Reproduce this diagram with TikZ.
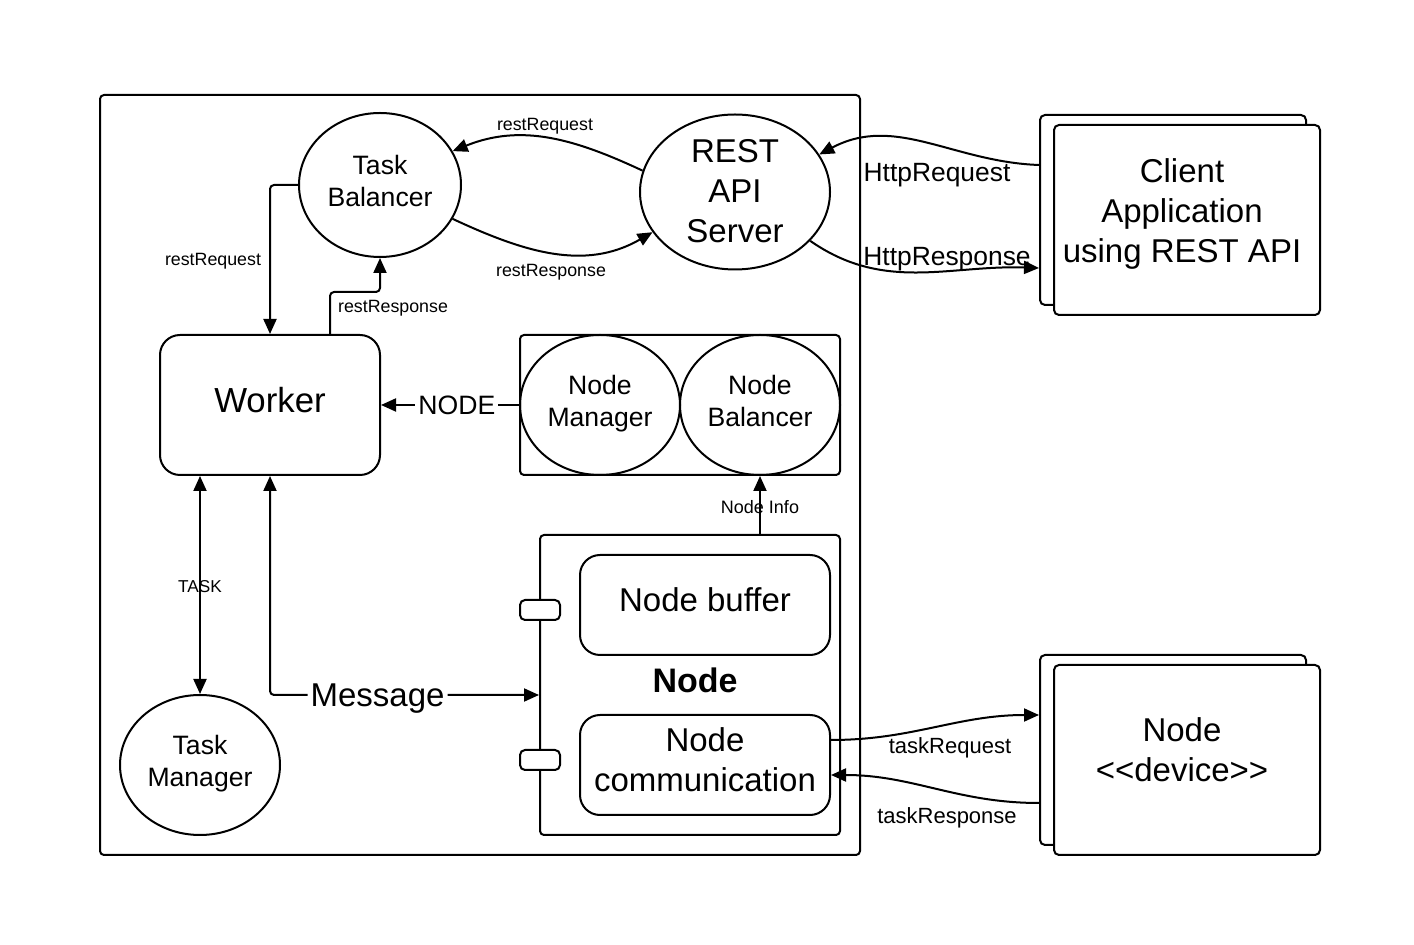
\documentclass[tikz,border=0pt]{standalone}
\usepackage{fontspec}
\setmainfont{Liberation Sans}
\usetikzlibrary{shapes.geometric,arrows.meta,calc}
\newcommand\myfs[2]{\fontsize{#1}{#2}\selectfont}
\begin{document}
\begin{tikzpicture}[x=0.5pt,y=-0.5pt,line width=1pt,
  tip/.tip={Triangle[length=7.5pt,width=6.5pt]},
  arr/.style={-tip},
  arrb/.style={tip-tip},
  ell/.style={ellipse,draw,inner sep=0pt,align=center},
  rbox/.style={rectangle,draw,rounded corners=#1,inner sep=0pt,align=center},
  lbl/.style={inner sep=0pt,align=center},
  big/.style={font=\myfs{16.5}{20}},
  mid/.style={font=\myfs{13.3}{16}},
  small/.style={font=\myfs{8.9}{11}},
]
\useasboundingbox (0,0) rectangle (1414,945);
\fill[white] (0,0) rectangle (1414,945);

% outer frame
\node[rbox=2pt,minimum width=380pt,minimum height=380pt] (frame) at (480,475) {};

% ellipses
\node[ell,minimum width=81pt,minimum height=72pt] (tb) at (380,185) {};
\node[lbl,mid] (tbtxt) at (380,181) {Task\\Balancer};
\node[ell,minimum width=95pt,minimum height=77.5pt] (rest) at (735,192) {};
\node[lbl,big] (resttxt) at (735,191) {REST\\API\\Server};

% worker
\node[rbox=10pt,minimum width=110pt,minimum height=70pt] (worker) at (270,405) {};
\node[lbl,font=\myfs{17.4}{20}] (workertxt) at (270,400) {Worker};

% node manager / balancer
\node[rbox=2pt,minimum width=160pt,minimum height=70pt] (nmbox) at (680,405) {};
\node[ell,minimum width=80pt,minimum height=70pt] (nm) at (600,405) {};
\node[lbl,mid] (nmtxt) at (600,404) {Node\\Manager};
\node[ell,minimum width=80pt,minimum height=70pt] (nb) at (760,405) {};
\node[lbl,mid] (nbtxt) at (760,401) {Node\\Balancer};

% node container
\node[rbox=2pt,minimum width=150pt,minimum height=150pt] (nodec) at (690,685) {};
\node[rbox=10pt,minimum width=125pt,minimum height=50pt] (nbuf) at (705,605) {};
\node[lbl,big] (nbuftxt) at (705,600) {Node buffer};
\node[rbox=10pt,minimum width=125pt,minimum height=50pt] (ncomm) at (705,765) {};
\node[lbl,big] (ncommtxt) at (705,760) {Node\\communication};
\node[lbl,font=\myfs{17}{20}\bfseries] (nodelbl) at (695,680) {Node};
\node[rbox=2.5pt,fill=white,minimum width=20pt,minimum height=10pt] (port1) at (540,610) {};
\node[rbox=2.5pt,fill=white,minimum width=20pt,minimum height=10pt] (port2) at (540,760) {};

% task manager
\node[ell,minimum width=80pt,minimum height=70pt] (tm) at (200,765) {};
\node[lbl,mid] (tmtxt) at (200,764) {Task\\Manager};

% client application
\node[rbox=2.5pt,minimum width=133pt,minimum height=95pt] (cliback) at (1173,210) {};
\node[rbox=2.5pt,fill=white,minimum width=133pt,minimum height=95pt] (clifront) at (1187,220) {};
\node[lbl,big] (clitxt) at (1182,214) {Client\\Application\\using REST API};

% device
\node[rbox=2.5pt,minimum width=133pt,minimum height=95pt] (devback) at (1173,750) {};
\node[rbox=2.5pt,fill=white,minimum width=133pt,minimum height=95pt] (devfront) at (1187,760) {};
\node[lbl,big] (devtxt) at (1182,750) {Node\\<\kern0pt<device>\kern0pt>};

% connectors
\draw[arr] (rest.167) to[out=155,in=22] (tb.25);
\node[lbl,small] (l1) at (545,126) {restRequest};
\draw[arr] (tb.-25) to[out=-25,in=-150] (rest.-154);
\node[lbl,small] (l2) at (551,272) {restResponse};

\draw[arr,rounded corners=2pt] (tb.west) -| (worker.north);
\node[lbl,small] (l3) at (213,261) {restRequest};
\draw[arr,rounded corners=2pt] ([xshift=30pt]worker.north) -- ++(0,-42) -| (tb.south);
\node[lbl,small] (l4) at (393,308) {restResponse};

\draw[arr] (nm.west) -- (worker.east) node[pos=0.45,fill=white,inner sep=1.5pt,mid] {NODE};
\draw[arr] (nb.south |- nodec.north) -- (nb.south) node[midway,lbl,yshift=-1pt,font=\myfs{9}{11}] {Node Info};
\draw[arrb] (tm.north) -- (tm.north |- worker.south) node[midway,lbl,yshift=-1pt,font=\myfs{8.6}{10}] {TASK};
\draw[arrb,rounded corners=2pt] (worker.south) |- ([yshift=-5pt]nodec.west) node[pos=0.7,fill=white,inner sep=1.5pt,yshift=-2pt,font=\myfs{16.5}{20}] {Message};

\draw[arr] ([yshift=22.5pt]cliback.west) to[out=178,in=28] (rest.24);
\node[lbl,font=\myfs{13.2}{16}] (l5) at (937,175) {HttpRequest};
\draw[arr] (rest.-33) to[out=-35,in=178] ([yshift=-29pt]cliback.west);
\node[lbl,font=\myfs{13.2}{16}] (l6) at (947,259) {HttpResponse};

\draw[arr] ([yshift=12.5pt]ncomm.east) to[out=0,in=180] ([yshift=17.5pt]devback.west);
\node[lbl,font=\myfs{11}{13}] (l7) at (950,748) {taskRequest};
\draw[arr] ([yshift=-26.5pt]devback.west) to[out=180,in=0] ([yshift=-5pt]ncomm.east);
\node[lbl,font=\myfs{11}{13}] (l8) at (947,818) {taskResponse};
\end{tikzpicture}
\end{document}
